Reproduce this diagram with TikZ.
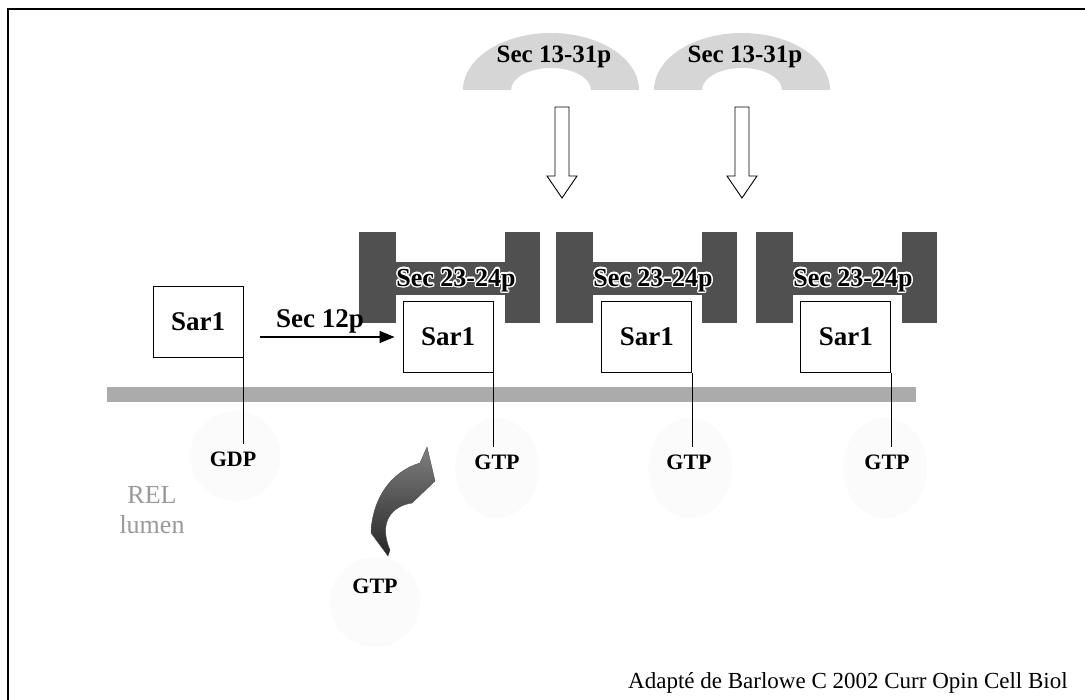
\documentclass[tikz,border=0pt]{standalone}
\usepackage{fontspec}
\setmainfont{Liberation Serif}
\usepackage{contour}
\contourlength{1.3pt}
\usetikzlibrary{arrows.meta, positioning, calc}
\definecolor{coatgray}{HTML}{505050}
\definecolor{ringgray}{HTML}{D6D6D6}
\definecolor{membgray}{HTML}{ABABAB}

\tikzset{
  sarbox/.style={draw, line width=0.9pt, fill=white, minimum width=90pt, minimum height=71pt, inner sep=0pt, font=\fontsize{27}{29}\selectfont\bfseries},
  nucl/.style={font=\fontsize{22}{24}\selectfont\bfseries, anchor=base, inner xsep=0pt, inner ysep=8pt},
  glow/.style={fill=black!1.5, draw=none},
  coatlabel/.style={font=\fontsize{26}{28}\selectfont\bfseries, inner sep=0pt},
  ringlabel/.style={font=\fontsize{25}{27}\selectfont\bfseries, anchor=base, inner sep=0pt},
}

\begin{document}
\begin{tikzpicture}[x=1pt, y=-1pt]
          \useasboundingbox (0,0) rectangle (1085,700);
          \draw[line width=1.6pt] (8,700) -- (8,9) -- (1085,9);

          % faint spots under the membrane
          \fill[glow] (235,456) circle[radius=45];
          \foreach \gx in {497,690,885}
            \fill[glow] (\gx,468) ellipse[x radius=42, y radius=50];
          \fill[glow] (375,602) circle[radius=45];

          % Sec 13-31p half rings
          \foreach \cx/\nm in {551/ringA, 742/ringB} {
            \fill[ringgray] ({\cx-88},90) arc[start angle=180, end angle=0, x radius=88pt, y radius=57pt]
              -- ({\cx+40},90) arc[start angle=0, end angle=180, x radius=40pt, y radius=22pt] -- cycle;
            \node[ringlabel] (\nm) at ({\cx+3},63) {Sec 13-31p};
          }
          \foreach \ax in {562,742}
            \draw[line width=0.9pt, fill=white] ({\ax-7},107) -- ({\ax+7},107) -- ({\ax+7},176) -- ({\ax+15},176)
              -- (\ax,198) -- ({\ax-15},176) -- ({\ax-7},176) -- cycle;

          % Sec 23-24p coats
          \foreach \cx/\nm in {359/coatA, 556/coatB, 756/coatC} {
            \fill[coatgray] (\cx,232) rectangle ({\cx+37},323);
            \fill[coatgray] ({\cx+37},262) rectangle ({\cx+146},295);
            \fill[coatgray] ({\cx+146},232) rectangle ({\cx+181},323);
            \node[coatlabel] (\nm) at ({\cx+97},281) {\contour{white}{Sec 23-24p}};
          }

          \fill[membgray] (107,387) rectangle (916,402);

          \node[sarbox] (sarA) at (198,322) {Sar1};
          \node[sarbox] (sarB) at (448,337) {Sar1};
          \node[sarbox, right=108pt of sarB] (sarC) {Sar1};
          \node[sarbox, right=108pt of sarC] (sarD) {Sar1};

          \node[nucl] (gdp) at (233,467) {GDP};
          \node[nucl] (gtpB) at (497,470) {GTP};
          \node[nucl] (gtpC) at (689,470) {GTP};
          \node[nucl] (gtpD) at (887,470) {GTP};
          \node[nucl] (gtpE) at (375,593) {GTP};

          \foreach \s/\n in {sarA/gdp, sarB/gtpB, sarC/gtpC, sarD/gtpD}
            \draw[line width=0.9pt] (\s.south east) -- (\s.south east |- \n.north);

          \draw[line width=1.1pt, -{Triangle[length=15pt, width=12pt]}] ([xshift=17pt]sarA.east |- sarB.west) -- ([xshift=-8pt]sarB.west);
          \node[font=\fontsize{27}{29}\selectfont\bfseries, anchor=base, inner sep=0pt] (sec12) at (320,328) {Sec 12p};

          \shade[top color=black!50, bottom color=black!85, draw=black!70]
            (388,556) -- (371,533) .. controls (372,500) and (390,472) .. (420,463) -- (427,447) -- (435,481)
            -- (412,503) .. controls (392,506) and (378,522) .. (390,550) -- cycle;

          \node[font=\fontsize{26}{30}\selectfont, text=black!40, align=center] (lumen) at (152,510) {REL\\lumen};
          \node[anchor=base west, font=\fontsize{23}{25}\selectfont, inner sep=0pt] (credit) at (628,688) {Adapté de Barlowe C 2002 Curr Opin Cell Biol};
\end{tikzpicture}
\end{document}
